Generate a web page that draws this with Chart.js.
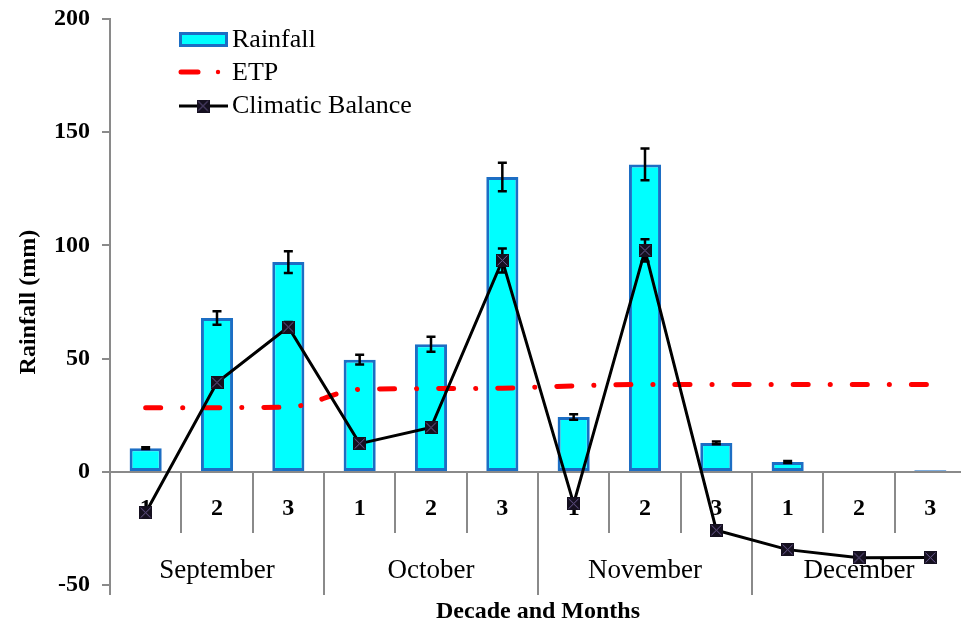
<!DOCTYPE html>
<html>
<head>
<meta charset="utf-8">
<script src="https://cdn.jsdelivr.net/npm/chart.js@4.4.1/dist/chart.umd.min.js"></script>
<style>
  html, body { margin: 0; padding: 0; background: #fff; overflow: hidden; }
  #wrap { width: 975px; height: 626px; }
</style>
</head>
<body>
<div id="wrap"><canvas id="chart_rain" width="975" height="626"></canvas></div>
<script>
// decades (x axis) and months (second row under the axis)
const decades = ['1', '2', '3', '1', '2', '3', '1', '2', '3', '1', '2', '3'];
const months = ['September', 'October', 'November', 'December'];

// values (mm)
const rainfall = [10.5, 68, 92.7, 49.6, 56.4, 130.2, 24.3, 135.8, 12.8, 4.4, 0, 0.8];
const rainfallErr = [0.4, 3, 4.8, 2.2, 3.3, 6.3, 1.2, 7, 0.6, 0.4, 0, 0];
const etp = [28.4, 28.4, 28.6, 36.5, 36.8, 37, 38, 38.6, 38.6, 38.6, 38.6, 38.6];
const balance = [-18, 39.5, 64, 12.5, 19.6, 93.4, -14, 97.8, -25.7, -34.3, -37.9, -37.8];
const balanceErr = [0, 0, 2.2, 0, 0, 5.3, 0, 4.9, 0, 0, 0, 0];
const yTicks = [-50, 0, 50, 100, 150, 200];

Chart.defaults.font.family = "'Liberation Serif', 'DejaVu Serif', serif";
Chart.defaults.color = '#000';

// square marker with a cross, like the Excel one
function makeMarker(size) {
  const c = document.createElement('canvas');
  c.width = size; c.height = size;
  const g = c.getContext('2d');
  g.fillStyle = '#15101f';
  g.fillRect(0, 0, size, size);
  g.strokeStyle = '#6e5c96';
  g.lineWidth = 1;
  g.beginPath();
  g.moveTo(1.5, 1.5); g.lineTo(size - 1.5, size - 1.5);
  g.moveTo(size - 1.5, 1.5); g.lineTo(1.5, size - 1.5);
  g.stroke();
  return c;
}
const marker = makeMarker(13);

// error bars drawn from the y scale
const errorBars = {
  id: 'errorBars',
  drawBars(chart, index) {
    const ds = chart.data.datasets[index];
    if (!ds.errors) return;
    const meta = chart.getDatasetMeta(index);
    const y = chart.scales.y;
    const ctx = chart.ctx;
    ctx.save();
    ctx.strokeStyle = '#000';
    ctx.lineWidth = 2.5;
    meta.data.forEach((el, i) => {
      const e = ds.errors[i];
      if (!e) return;
      const top = y.getPixelForValue(ds.data[i] + e);
      const bot = y.getPixelForValue(ds.data[i] - e);
      ctx.beginPath();
      ctx.moveTo(el.x, top); ctx.lineTo(el.x, bot);
      ctx.moveTo(el.x - 4.5, top); ctx.lineTo(el.x + 4.5, top);
      ctx.moveTo(el.x - 4.5, bot); ctx.lineTo(el.x + 4.5, bot);
      ctx.stroke();
    });
    ctx.restore();
  },
  beforeDatasetDraw(chart, args) {
    if (chart.data.datasets[args.index].type === 'line') this.drawBars(chart, args.index);
  },
  afterDatasetDraw(chart, args) {
    if (chart.data.datasets[args.index].type === 'bar') this.drawBars(chart, args.index);
  }
};

// legend in the top left of the plot
const boxLegend = {
  id: 'boxLegend',
  afterDraw(chart) {
    const ctx = chart.ctx;
    const ds = chart.data.datasets;
    const x0 = 179, tx = 232;
    ctx.save();
    // Rainfall
    ctx.fillStyle = '#00ffff';
    ctx.fillRect(x0, 32, 49, 15);
    ctx.strokeStyle = '#1c6ec4';
    ctx.lineWidth = 3;
    ctx.strokeRect(x0 + 1.5, 33.5, 46, 12);
    // ETP
    ctx.strokeStyle = '#ff0000';
    ctx.lineWidth = 5;
    ctx.lineCap = 'round';
    ctx.beginPath(); ctx.moveTo(x0 + 2, 72); ctx.lineTo(x0 + 19, 72); ctx.stroke();
    ctx.beginPath(); ctx.arc(218, 72, 2.2, 0, Math.PI * 2); ctx.fillStyle = '#ff0000'; ctx.fill();
    // Climatic Balance
    ctx.strokeStyle = '#000';
    ctx.lineWidth = 3;
    ctx.lineCap = 'butt';
    ctx.beginPath(); ctx.moveTo(x0, 106); ctx.lineTo(x0 + 49, 106); ctx.stroke();
    ctx.drawImage(marker, 203 - 6.5, 106 - 6.5);
    // labels
    ctx.fillStyle = '#000';
    ctx.font = "26px 'Liberation Serif', serif";
    ctx.textBaseline = 'middle';
    ctx.fillText(ds[0].label, tx, 40);
    ctx.fillText(ds[1].label, tx, 73);
    ctx.fillText(ds[2].label, tx, 106);
    ctx.restore();
  }
};

const axisGray = '#8a8a8a';

new Chart(document.getElementById('chart_rain'), {
  data: {
    labels: decades,
    datasets: [
      {
        type: 'bar',
        label: 'Rainfall',
        data: rainfall,
        errors: rainfallErr,
        backgroundColor: '#00ffff',
        borderColor: '#1c6ec4',
        borderWidth: 3,
        borderSkipped: false,
        barPercentage: 0.45,
        categoryPercentage: 1,
        order: 3
      },
      {
        type: 'line',
        label: 'ETP',
        data: etp,
        borderColor: '#ff0000',
        borderWidth: 5,
        borderDash: [15, 22, 0.1, 22],
        borderCapStyle: 'round',
        cubicInterpolationMode: 'monotone',
        pointRadius: 0,
        fill: false,
        order: 2
      },
      {
        type: 'line',
        label: 'Climatic Balance',
        data: balance,
        errors: balanceErr,
        borderColor: '#000',
        borderWidth: 3,
        tension: 0,
        pointStyle: marker,
        pointRadius: 6,
        fill: false,
        order: 1
      }
    ]
  },
  options: {
    responsive: false,
    animation: false,
    events: [],
    layout: { padding: { left: 0, right: 5, top: 19, bottom: 0 } },
    scales: {
      x: {
        type: 'category',
        position: { y: 0 },
        offset: true,
        grid: {
          offset: true,
          drawOnChartArea: false,
          drawTicks: true,
          tickLength: 60,
          color: axisGray,
          lineWidth: 2
        },
        border: { display: true, color: axisGray, width: 2 },
        ticks: {
          autoSkip: false,
          maxRotation: 0,
          padding: -38,
          font: { size: 24, weight: 'bold' }
        }
      },
      x2: {
        type: 'category',
        labels: months,
        position: { y: 0 },
        offset: true,
        grid: {
          offset: true,
          drawOnChartArea: false,
          drawTicks: true,
          tickLength: 123,
          color: axisGray,
          lineWidth: 2
        },
        border: { display: false },
        ticks: {
          autoSkip: false,
          maxRotation: 0,
          padding: -40,
          font: { size: 27 }
        }
      },
      y: {
        min: -50,
        max: 200,
        afterFit(scale) { scale.width = 110; scale.paddingTop = 0; scale.paddingBottom = 0; },
        afterBuildTicks(scale) { scale.ticks = yTicks.map(v => ({ value: v })); },
        grid: {
          drawOnChartArea: false,
          drawTicks: true,
          tickLength: 8,
          color: axisGray,
          lineWidth: 2
        },
        border: { display: true, color: axisGray, width: 2 },
        ticks: { padding: 12, font: { size: 24, weight: 'bold', lineHeight: 1 } },
        title: {
          display: true,
          text: 'Rainfall (mm)',
          font: { size: 24, weight: 'bold' },
          padding: { top: 14, bottom: 0 }
        }
      }
    },
    plugins: {
      legend: { display: false },
      tooltip: { enabled: false },
      title: {
        display: true,
        text: 'Decade and Months',
        position: 'bottom',
        fullSize: false,
        font: { size: 24, weight: 'bold' },
        color: '#000',
        padding: { top: 12, bottom: 0 }
      }
    }
  },
  plugins: [errorBars, boxLegend]
});
</script>
</body>
</html>
